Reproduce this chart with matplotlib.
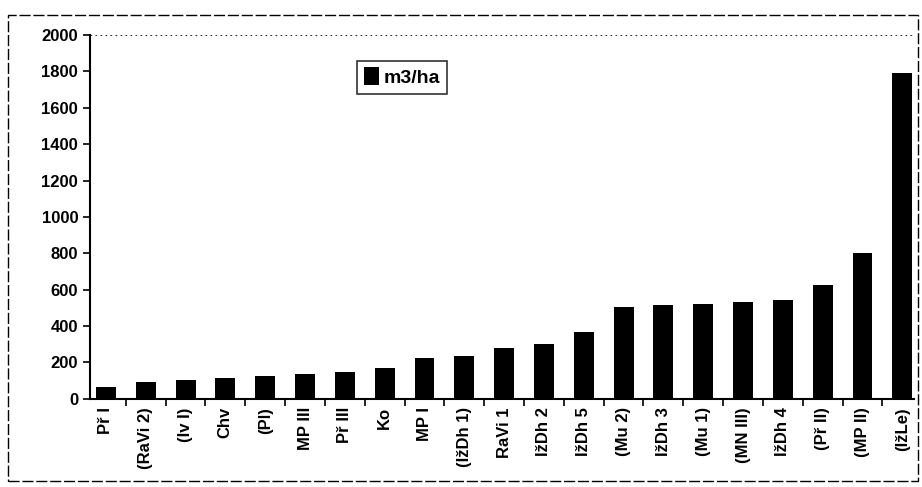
import numpy as np
import matplotlib.pyplot as plt
from matplotlib.patches import Rectangle

plt.rcParams['font.family'] = ['Liberation Sans', 'DejaVu Sans']

# Data (m3/ha)
lokality = ["Př I", "(RaVi 2)", "(Iv I)", "Chv", "(Pl)", "MP III", "Př III", "Ko",
            "MP I", "(IžDh 1)", "RaVi 1", "IžDh 2", "IžDh 5", "(Mu 2)", "IžDh 3",
            "(Mu 1)", "(MN III)", "IžDh 4", "(Př II)", "(MP II)", "(IžLe)"]
objem = [65, 90, 105, 115, 125, 135, 150, 170, 225, 235, 280, 300, 365,
         505, 515, 520, 530, 545, 625, 800, 1790]
yticks = [0, 200, 400, 600, 800, 1000, 1200, 1400, 1600, 1800, 2000]

fig = plt.figure(figsize=(9.22, 4.87), dpi=100)
ax = fig.add_axes([0.0976, 0.181, 0.894, 0.747])

x = np.arange(len(lokality))
ax.bar(x, objem, width=0.5, color="black", label="m3/ha")

ax.set_ylim(0, 2000)
ax.set_xlim(-0.4, len(lokality) - 0.7)
ax.set_yticks(yticks)
ax.set_yticklabels([str(v) for v in yticks], fontsize=12, fontweight="bold")
ax.set_xticks(x)
ax.set_xticklabels(lokality, rotation=90, fontsize=12, fontweight="bold")
ax.tick_params(axis="x", which="major", length=0, pad=6)
ax.set_xticks(x[:-1] + 0.5, minor=True)
ax.tick_params(axis="x", which="minor", length=5, width=1.2, direction="out")
ax.tick_params(axis="y", length=5, width=1.2, direction="out")

for s in ["top", "right"]:
    ax.spines[s].set_visible(False)
ax.spines["left"].set_linewidth(1.5)
ax.spines["bottom"].set_linewidth(1.5)
ax.axhline(2000, color="black", lw=0.6, ls=(0, (2, 4)), clip_on=False)

leg = ax.legend(loc="upper left", bbox_to_anchor=(0.324, 0.93), borderaxespad=0,
                frameon=True, fancybox=False, handlelength=0.8, handleheight=1.0,
                handletextpad=0.2, borderpad=0.35, prop={"weight": "bold", "size": 14})
leg.get_frame().set_edgecolor("black")
leg.get_frame().set_linewidth(1.2)

# outer chart frame
fig.patches.append(Rectangle((0.009, 0.012), 0.987, 0.958, transform=fig.transFigure,
                             fill=False, edgecolor="black", lw=1.0, ls=(0, (8, 2))))

fig.savefig("out.png", dpi=100)
